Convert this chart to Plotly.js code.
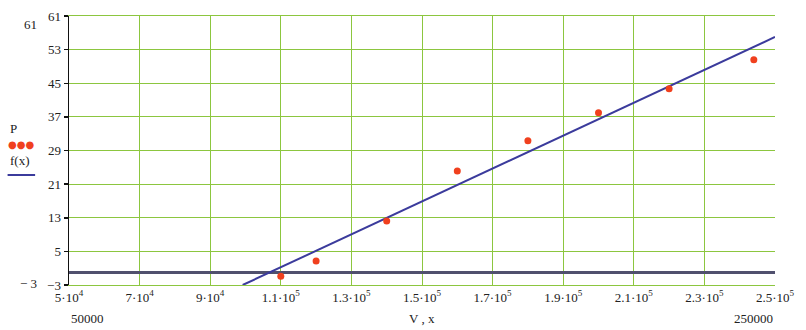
<!DOCTYPE html>
<html>
<head>
<meta charset="utf-8">
<script src="https://cdn.plot.ly/plotly-3.0.1.min.js"></script>
<style>
html,body{margin:0;padding:0;background:#fff;}
#chart{width:806px;height:330px;}
</style>
</head>
<body>
<div id="chart"></div>
<script>
// Data
const V = [110000, 120000, 140000, 160000, 180000, 200000, 220000, 244000];
const P = [-0.9, 2.7, 12.2, 24.1, 31.3, 38.0, 43.7, 50.6];
// fitted line f(x) read at its two ends
const fX = [99200, 250000];
const fY = [-3.0, 56.0];

const xTickVals = [50000, 70000, 90000, 110000, 130000, 150000, 170000, 190000, 210000, 230000, 250000];
const xTickText = ["5·10<sup>4</sup>", "7·10<sup>4</sup>", "9·10<sup>4</sup>", "1.1·10<sup>5</sup>", "1.3·10<sup>5</sup>",
  "1.5·10<sup>5</sup>", "1.7·10<sup>5</sup>", "1.9·10<sup>5</sup>", "2.1·10<sup>5</sup>", "2.3·10<sup>5</sup>", "2.5·10<sup>5</sup>"];
const yTickVals = [-3, 5, 13, 21, 29, 37, 45, 53, 61];
const xRange = [50000, 250000];
const yRange = [-3, 61];

const grid = '#8cc63f';
const fnt = {family: 'Liberation Serif', size: 13, color: '#222'};
const zeroPos = (0 - yRange[0]) / (yRange[1] - yRange[0]);

const traces = [
  {x: fX, y: fY, mode: 'lines', line: {color: '#3b3b9c', width: 2}, hoverinfo: 'skip', showlegend: false},
  {x: V, y: P, mode: 'markers', marker: {color: '#f0401e', size: 7}, showlegend: false}
];

const layout = {
  width: 806, height: 330,
  margin: {l: 69, r: 31, t: 16, b: 45},
  paper_bgcolor: '#fff', plot_bgcolor: '#fff',
  font: fnt,
  showlegend: false,
  xaxis: {
    range: xRange, tickmode: 'array', tickvals: xTickVals, ticktext: xTickText,
    showgrid: true, gridcolor: grid, gridwidth: 1, zeroline: false,
    showline: true, linecolor: grid, linewidth: 1, mirror: true,
    ticks: '', tickfont: fnt
  },
  xaxis2: {
    overlaying: 'x', anchor: 'free', position: zeroPos, range: xRange,
    tickmode: 'array', tickvals: xTickVals, showticklabels: false,
    ticks: 'outside', ticklen: 3, tickwidth: 1.5, tickcolor: '#111',
    showgrid: false, zeroline: false, showline: false
  },
  xaxis3: {
    overlaying: 'x', anchor: 'free', position: zeroPos, range: xRange,
    tickmode: 'array', tickvals: xTickVals, showticklabels: false,
    ticks: 'inside', ticklen: 3, tickwidth: 1.5, tickcolor: '#111',
    showgrid: false, zeroline: false, showline: false
  },
  yaxis: {
    range: yRange, tickmode: 'array', tickvals: yTickVals,
    showgrid: true, gridcolor: grid, gridwidth: 1,
    zeroline: true, zerolinecolor: '#50506e', zerolinewidth: 2.5,
    showline: true, linecolor: '#111', linewidth: 1.5,
    ticks: 'outside', ticklen: 4, tickwidth: 1.5, tickcolor: '#111', tickfont: fnt
  },
  yaxis2: {
    overlaying: 'y', anchor: 'x', side: 'left', range: yRange, tickmode: 'array', tickvals: yTickVals,
    showticklabels: false, ticks: 'inside', ticklen: 4, tickwidth: 1.5, tickcolor: '#111',
    showgrid: false, zeroline: false, showline: false
  },
  annotations: [
    {xref: 'paper', yref: 'paper', x: -0.043, y: 0.967, text: '61', showarrow: false, xanchor: 'right', yanchor: 'middle', font: fnt},
    {xref: 'paper', yref: 'paper', x: -0.043, y: 0.007, text: '− 3', showarrow: false, xanchor: 'right', yanchor: 'middle', font: fnt},
    {xref: 'paper', yref: 'paper', x: 0.0, y: -0.123, text: '50000', showarrow: false, xanchor: 'left', yanchor: 'middle', font: fnt},
    {xref: 'paper', yref: 'paper', x: 1.0, y: -0.123, text: '250000', showarrow: false, xanchor: 'right', yanchor: 'middle', font: fnt},
    {xref: 'paper', yref: 'paper', x: 0.5, y: -0.123, text: 'V , x', showarrow: false, xanchor: 'center', yanchor: 'middle', font: fnt},
    {xref: 'paper', yref: 'paper', x: -0.086, y: 0.58, text: 'P', showarrow: false, xanchor: 'left', yanchor: 'middle', font: fnt},
    {xref: 'paper', yref: 'paper', x: -0.089, y: 0.522, text: '●●●', showarrow: false, xanchor: 'left', yanchor: 'middle', font: {family: 'DejaVu Sans', size: 10, color: '#f0401e'}},
    {xref: 'paper', yref: 'paper', x: -0.086, y: 0.464, text: 'f(x)', showarrow: false, xanchor: 'left', yanchor: 'middle', font: fnt}
  ],
  shapes: [
    {type: 'line', xref: 'paper', yref: 'paper', x0: -0.087, x1: -0.048, y0: 0.409, y1: 0.409, line: {color: '#3b3b9c', width: 2}}
  ]
};

Plotly.newPlot('chart', traces, layout, {displayModeBar: false, staticPlot: true});
</script>
</body>
</html>
